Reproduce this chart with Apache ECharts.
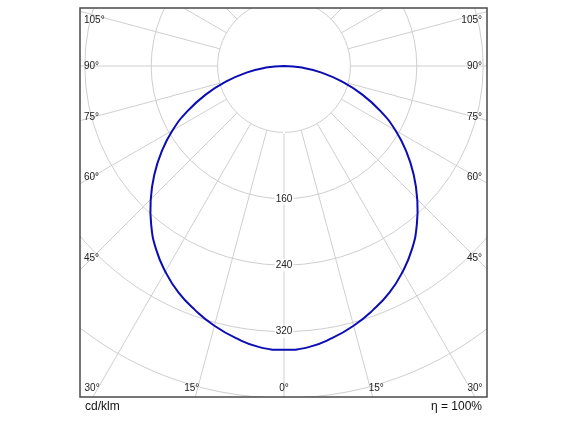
<!DOCTYPE html>
<html>
<head>
<meta charset="utf-8">
<script src="https://cdn.jsdelivr.net/npm/echarts@6/dist/echarts.min.js"></script>
<style>
  html, body { margin: 0; padding: 0; background: #fff; }
  #chart { width: 567px; height: 425px; }
</style>
</head>
<body>
<div id="chart"></div>
<script>
// gamma angles (deg) and luminous intensity (cd/klm), symmetric curve
const gammaAngles = [0, 5, 10, 15, 20, 25, 30, 35, 40, 45, 50, 55, 60, 65, 70, 75, 80, 85, 90]
const intensity = [342, 340, 333, 324, 313, 301, 286, 269, 249, 227, 204, 180, 155, 128, 100, 72, 46, 22, 0]
const ringLabels = [160, 240, 320]
const angleLabels = [0, 15, 30, 45, 60, 75, 90, 105]

const cx = 284, cy = 66
const pxPer80 = 66.4
const box = { l: 80, r: 487, t: 8, b: 397 }
const font = '10px "Liberation Sans", Arial, sans-serif'

// curve: right side negative angles, left side positive
const curve = []
for (let i = gammaAngles.length - 1; i > 0; i--) curve.push([intensity[i], -gammaAngles[i]])
for (let i = 0; i < gammaAngles.length; i++) curve.push([intensity[i], gammaAngles[i]])

const graphics = [
  { type: 'rect', z: 100, shape: { x: 0, y: 0, width: 567, height: box.t }, style: { fill: '#fff' } },
  { type: 'rect', z: 100, shape: { x: 0, y: box.b, width: 567, height: 425 - box.b }, style: { fill: '#fff' } },
  { type: 'rect', z: 100, shape: { x: 0, y: 0, width: box.l, height: 425 }, style: { fill: '#fff' } },
  { type: 'rect', z: 100, shape: { x: box.r, y: 0, width: 567 - box.r, height: 425 }, style: { fill: '#fff' } },
  { type: 'rect', z: 101, shape: { x: box.l, y: box.t, width: box.r - box.l, height: box.b - box.t },
    style: { fill: 'none', stroke: '#4a4a4a', lineWidth: 1.5 } },
  { type: 'text', z: 102, x: box.l + 5, y: 413,
    style: { text: 'cd/klm', fill: '#111', font: '12px "Liberation Sans", Arial, sans-serif', textAlign: 'left', align: 'left', textVerticalAlign: 'bottom', verticalAlign: 'bottom' } },
  { type: 'text', z: 102, x: 482, y: 413,
    style: { text: 'η = 100%', fill: '#111', font: '12px "Liberation Sans", Arial, sans-serif', textAlign: 'right', align: 'right', textVerticalAlign: 'bottom', verticalAlign: 'bottom' } }
]

// angle labels where the radial lines meet the frame
angleLabels.forEach(a => {
  const rad = a * Math.PI / 180
  const s = Math.sin(rad), c = Math.cos(rad)
  const txt = a + '°'
  if (a >= 45) {
    const t = (cx - 92) / s
    const y = Math.max(20, cy + t * c)
    graphics.push({ type: 'text', z: 102, x: 84, y: y,
      style: { text: txt, fill: '#222', font, textAlign: 'left', align: 'left', textVerticalAlign: 'middle', verticalAlign: 'middle' } })
    graphics.push({ type: 'text', z: 102, x: 482, y: y,
      style: { text: txt, fill: '#222', font, textAlign: 'right', align: 'right', textVerticalAlign: 'middle', verticalAlign: 'middle' } })
  } else {
    const t = (388 - cy) / c
    const dx = t * s + (a > 0 ? 6 : 0)
    const xs = a > 0 ? [Math.max(92, cx - dx), Math.min(475, cx + dx)] : [cx]
    xs.forEach(x => {
      graphics.push({ type: 'text', z: 102, x: x, y: 388,
        style: { text: txt, fill: '#222', font, textAlign: 'center', align: 'center', textVerticalAlign: 'middle', verticalAlign: 'middle' } })
    })
  }
})

const chart = echarts.init(document.getElementById('chart'))
chart.setOption({
  animation: false,
  backgroundColor: '#fff',
  polar: [
    { center: [cx, cy], radius: [pxPer80, pxPer80 * 6] },
    { center: [cx, cy], radius: pxPer80 * 6 }
  ],
  angleAxis: [
    {
      polarIndex: 0, type: 'value', min: 0, max: 360, interval: 15, startAngle: 270,
      axisLine: { show: false }, axisTick: { show: false }, axisLabel: { show: false },
      splitLine: { show: true, lineStyle: { color: '#cfcfcf', width: 1 } }
    },
    {
      polarIndex: 1, type: 'value', min: -180, max: 180, startAngle: 90, clockwise: true,
      show: false
    }
  ],
  radiusAxis: [
    {
      polarIndex: 0, type: 'value', min: 80, max: 480, interval: 80,
      axisLine: { show: false }, axisTick: { show: false },
      splitLine: { show: true, lineStyle: { color: '#cfcfcf', width: 1 } },
      axisLabel: {
        margin: 0, align: 'center', verticalAlign: 'middle', rotate: 0,
        color: '#222', fontSize: 10, fontFamily: '"Liberation Sans", Arial, sans-serif',
        backgroundColor: '#fff', padding: [1, 1],
        formatter: v => ringLabels.indexOf(v) >= 0 ? String(v) : ''
      }
    },
    { polarIndex: 1, type: 'value', min: 0, max: 480, show: false }
  ],
  series: [
    {
      // one smooth path through all points, positioned by the polar axes
      type: 'custom', coordinateSystem: 'polar', polarIndex: 1,
      data: curve,
      renderItem: (params, api) => {
        if (params.dataIndex !== 0) return null
        const pts = curve.map(d => api.coord(d))
        return {
          type: 'polyline',
          shape: { points: pts, smooth: 0.5 },
          style: { fill: 'none', stroke: '#0c0cb4', lineWidth: 2, lineJoin: 'round' }
        }
      }
    }
  ],
  graphic: { elements: graphics }
})
</script>
</body>
</html>
